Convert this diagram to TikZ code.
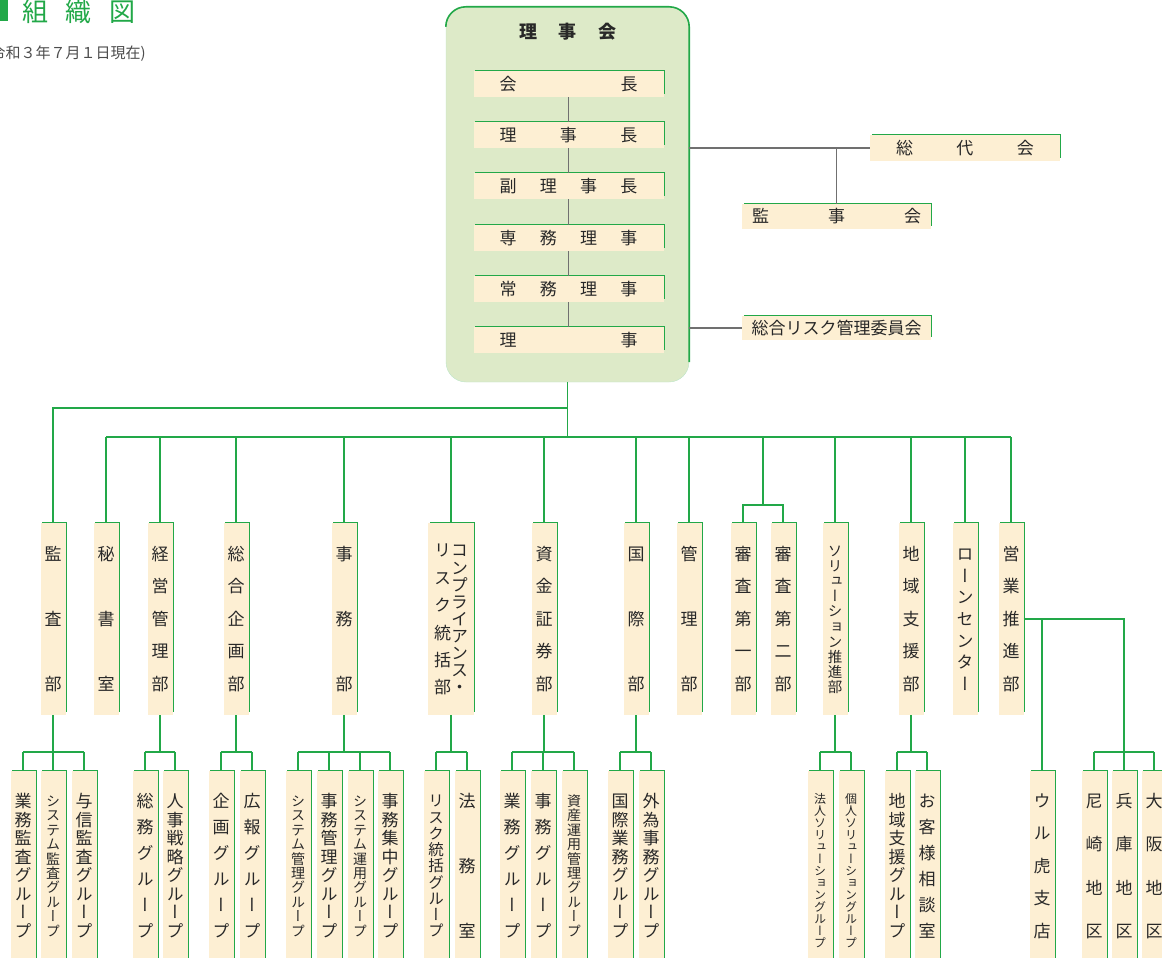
\documentclass[tikz,border=0pt]{standalone}
\usepackage{fontspec}
\newfontfamily\jpfont{Noto Sans CJK JP}
\newfontfamily\jpvert[RawFeature=+vert]{Noto Sans CJK JP}

\definecolor{lgreen}{RGB}{34,168,72}
\definecolor{cream}{RGB}{253,239,211}
\definecolor{boardfill}{RGB}{221,234,200}
\definecolor{lgray}{RGB}{112,112,112}
\definecolor{txt}{RGB}{40,40,40}

% vertical column of characters, spread over a fixed span
\newcommand\jvcol[3]{\parbox[c][\dimexpr#2+#1\relax][s]{#1}{\fontsize{#1}{#1}\selectfont\offinterlineskip\jvfirst#3\relax}}
\def\jvfirst#1{\jvchar{#1}\jvnext}
\def\jvnext#1{\ifx\relax#1\else\vfill\jvchar{#1}\expandafter\jvnext\fi}
\def\jvchar#1{\hbox to\hsize{\hss\vrule width0pt height.88em depth.12em\relax#1\hss}}

\begin{document}
\begin{tikzpicture}[
	x=1pt, y=-1pt,
	greenedge/.style={append after command={\pgfextra{\draw[lgreen, line width=1.6pt] ([xshift=2pt]\tikzlastnode.north west) -- (\tikzlastnode.north east) -- ([yshift=3pt]\tikzlastnode.south east);}}},
	boardbox/.style={fill=boardfill, draw=lgreen!30, rounded corners=20pt, minimum width=243pt, minimum height=375pt, inner sep=0pt},
	postbox/.style={fill=cream, minimum width=190pt, minimum height=26pt, inner sep=0pt, font=\jpfont\fontsize{17pt}{20pt}\selectfont, text=txt, greenedge},
	deptbox/.style={fill=cream, minimum width=25pt, minimum height=192pt, inner sep=0pt, font=\jpvert, text=txt, greenedge},
	compbox/.style={deptbox, minimum width=46pt},
	grpbox/.style={fill=cream, minimum width=25pt, minimum height=190pt, inner sep=0pt, font=\jpvert, text=txt, greenedge},
	gconn/.style={lgreen, line width=1.5pt},
	gline/.style={lgray, line width=1.5pt}
	]
	\useasboundingbox (0,0) rectangle (1162,958);
	
	\node[fill=lgreen, minimum width=8pt, minimum height=21pt, inner sep=0pt, anchor=north west] (mark) at (0,0) {};
	\node[font=\jpfont\fontsize{26pt}{26pt}\selectfont, text=lgreen, inner sep=0pt] (title) at (79,12) {\hbox to 114pt{組\hfill 織\hfill 図}};
	\node[font=\jpfont\fontsize{15pt}{15pt}\selectfont, text=black!70, inner sep=0pt, anchor=east] (date) at (146,54) {(令和３年７月１日現在)};
	
	\node[boardbox] (board) at (567.5,194.5) {};
	\draw[lgreen, line width=1.6pt, rounded corners=20pt] ([yshift=-20pt]board.north west) -- (board.north west) -- (board.north east) -- ([yshift=20pt]board.south east);
	\node[font=\jpfont\bfseries\fontsize{18pt}{18pt}\selectfont, text=txt, inner sep=0pt] (boardtitle) at (568,32) {\hbox to 97pt{理\hfill 事\hfill 会}};
	
	\node[postbox] (kaicho) at (568.5,84) {\hbox to 138pt{会\hfill 長}};
	\node[postbox] (richo) at (568.5,135) {\hbox to 138pt{理\hfill 事\hfill 長}};
	\node[postbox] (fuku) at (568.5,186) {\hbox to 138pt{副\hfill 理\hfill 事\hfill 長}};
	\node[postbox] (senmu) at (568.5,238) {\hbox to 138pt{専\hfill 務\hfill 理\hfill 事}};
	\node[postbox] (jomu) at (568.5,289) {\hbox to 138pt{常\hfill 務\hfill 理\hfill 事}};
	\node[postbox] (riji) at (568.5,340) {\hbox to 138pt{理\hfill 事}};
	
	\node[postbox] (sodai) at (965,148) {\hbox to 138pt{総\hfill 代\hfill 会}};
	\node[postbox, minimum width=189pt, minimum height=25pt] (kanjikai) at (836.5,216.5) {\hbox to 169pt{監\hfill 事\hfill 会}};
	\node[postbox, minimum width=189pt, minimum height=24pt] (risk) at (836.5,328) {総合リスク管理委員会};
	
	\node[deptbox] (kansa) at (53,619) {\jvcol{17pt}{128pt}{監査部}};
	\node[deptbox] (hisho) at (106,619) {\jvcol{17pt}{128pt}{秘書室}};
	\node[deptbox] (keiei) at (160,619) {\jvcol{17pt}{128pt}{経営管理部}};
	\node[deptbox] (sogo) at (236,619) {\jvcol{17pt}{128pt}{総合企画部}};
	\node[deptbox] (jimu) at (344,619) {\jvcol{17pt}{128pt}{事務部}};
	\node[compbox] (comp) at (451,619) {\jvcol{17pt}{135pt}{リスク統括部}\jvcol{17pt}{135pt}{コンプライアンス・}};
	\node[deptbox] (shikin) at (544,619) {\jvcol{17pt}{128pt}{資金証券部}};
	\node[deptbox] (kokusai) at (636,619) {\jvcol{17pt}{128pt}{国際部}};
	\node[deptbox] (kanri) at (689,619) {\jvcol{17pt}{128pt}{管理部}};
	\node[deptbox] (shinsa1) at (743,619) {\jvcol{17pt}{128pt}{審査第一部}};
	\node[deptbox] (shinsa2) at (783,619) {\jvcol{17pt}{128pt}{審査第二部}};
	\node[deptbox] (solution) at (835,619) {\jvcol{14.5pt}{135pt}{ソリューション推進部}};
	\node[deptbox] (chiiki) at (911,619) {\jvcol{17pt}{128pt}{地域支援部}};
	\node[deptbox] (loan) at (965,619) {\jvcol{17pt}{128pt}{ローンセンター}};
	\node[deptbox] (eigyo) at (1011,619) {\jvcol{17pt}{128pt}{営業推進部}};
	
	\node[grpbox] (gyokan) at (23,866) {\jvcol{17pt}{128pt}{業務監査グループ}};
	\node[grpbox] (syskan) at (53,866) {\jvcol{14pt}{128pt}{システム監査グループ}};
	\node[grpbox] (yoshin) at (84,866) {\jvcol{17pt}{128pt}{与信監査グループ}};
	\node[grpbox] (somu) at (145,866) {\jvcol{17pt}{128pt}{総務グループ}};
	\node[grpbox] (jinji) at (175,866) {\jvcol{17pt}{128pt}{人事戦略グループ}};
	\node[grpbox] (kikaku) at (221,866) {\jvcol{17pt}{128pt}{企画グループ}};
	\node[grpbox] (koho) at (252,866) {\jvcol{17pt}{128pt}{広報グループ}};
	\node[grpbox] (syskanri) at (298,866) {\jvcol{14pt}{128pt}{システム管理グループ}};
	\node[grpbox] (jimukanri) at (329,866) {\jvcol{17pt}{128pt}{事務管理グループ}};
	\node[grpbox] (sysunyo) at (360,866) {\jvcol{14pt}{128pt}{システム運用グループ}};
	\node[grpbox] (shuchu) at (390,866) {\jvcol{17pt}{128pt}{事務集中グループ}};
	\node[grpbox] (risktk) at (436,866) {\jvcol{15.5pt}{128pt}{リスク統括グループ}};
	\node[grpbox] (homu) at (467,866) {\jvcol{17pt}{128pt}{法務室}};
	\node[grpbox] (gyomu) at (512,866) {\jvcol{17pt}{128pt}{業務グループ}};
	\node[grpbox] (jimug) at (543,866) {\jvcol{17pt}{128pt}{事務グループ}};
	\node[grpbox] (shisan) at (574,866) {\jvcol{14pt}{128pt}{資産運用管理グループ}};
	\node[grpbox] (kokug) at (620,866) {\jvcol{17pt}{128pt}{国際業務グループ}};
	\node[grpbox] (gaitame) at (651,866) {\jvcol{17pt}{128pt}{外為事務グループ}};
	\node[grpbox] (hojin) at (820,866) {\jvcol{12pt}{132pt}{法人ソリューショングループ}};
	\node[grpbox] (kojin) at (851,866) {\jvcol{12pt}{132pt}{個人ソリューショングループ}};
	\node[grpbox] (chiikig) at (897,866) {\jvcol{17pt}{128pt}{地域支援グループ}};
	\node[grpbox] (okyaku) at (927,866) {\jvcol{17pt}{128pt}{お客様相談室}};
	\node[grpbox] (uruko) at (1042,866) {\jvcol{17pt}{128pt}{ウル虎支店}};
	\node[grpbox] (amagasaki) at (1094,866) {\jvcol{17pt}{128pt}{尼崎地区}};
	\node[grpbox] (hyogo) at (1124,866) {\jvcol{17pt}{128pt}{兵庫地区}};
	\node[grpbox] (osaka) at (1154,866) {\jvcol{17pt}{128pt}{大阪地区}};
	
	\foreach \a/\b in {kaicho/richo, richo/fuku, fuku/senmu, senmu/jomu, jomu/riji}
		\draw[gline] (\a.south) -- (\b.north);
	\draw[gline] (sodai.west) -- (sodai.west -| board.east);
	\draw[gline] (kanjikai.north) -- (kanjikai.north |- sodai.west);
	\draw[gline] (risk.west) -- (risk.west -| board.east);
	
	\coordinate (split) at (567.5,408);
	\coordinate (bus) at (567.5,437);
	\coordinate (sfork) at (763,505);
	\coordinate (fk) at (0,752);
	
	\draw[gconn] (board.south) -- (bus);
	\draw[gconn] (split) -| (kansa.north);
	\draw[gconn] (hisho.north |- bus) -- (eigyo.north |- bus);
	\foreach \d in {hisho,keiei,sogo,jimu,comp,shikin,kokusai,kanri,solution,chiiki,loan,eigyo}
		\draw[gconn] (\d.north |- bus) -- (\d.north);
	\draw[gconn] (sfork |- bus) -- (sfork);
	\draw[gconn] (shinsa1.north) |- (sfork) -| (shinsa2.north);
	
	\foreach \d/\a/\b in {kansa/gyokan/yoshin, keiei/somu/jinji, sogo/kikaku/koho, jimu/syskanri/shuchu, comp/risktk/homu, shikin/gyomu/shisan, kokusai/kokug/gaitame, solution/hojin/kojin, chiiki/chiikig/okyaku}{
		\draw[gconn] (\d.south) -- (\d.south |- fk);
		\draw[gconn] (\a.north |- fk) -- (\b.north |- fk);
	}
	\foreach \g in {gyokan,syskan,yoshin,somu,jinji,kikaku,koho,syskanri,jimukanri,sysunyo,shuchu,risktk,homu,gyomu,jimug,shisan,kokug,gaitame,hojin,kojin,chiikig,okyaku,amagasaki,hyogo,osaka}
		\draw[gconn] (\g.north |- fk) -- (\g.north);
	
	\draw[gconn] (eigyo.east) -| (hyogo.north |- fk);
	\draw[gconn] (amagasaki.north |- fk) -- (osaka.north |- fk);
	\draw[gconn] (uruko.north) -- (uruko.north |- eigyo.east);
	
\end{tikzpicture}
\end{document}
